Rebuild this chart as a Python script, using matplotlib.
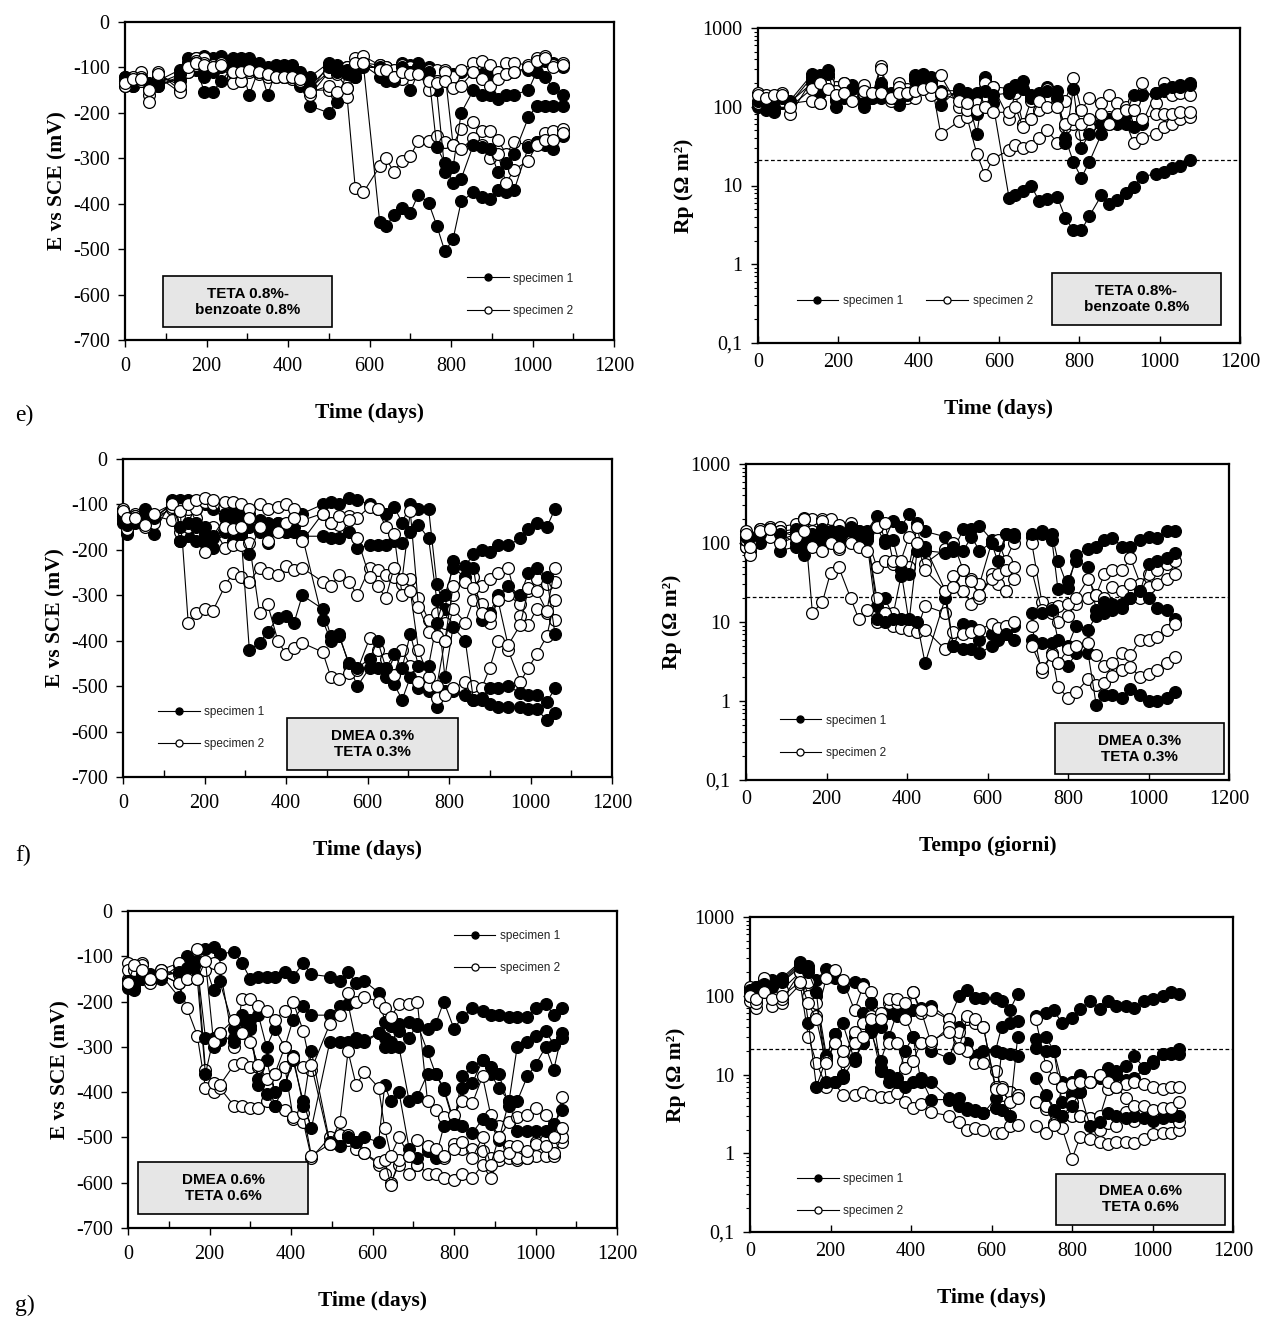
import numpy as np
import matplotlib
matplotlib.use('Agg')
from matplotlib import pyplot as plt
from matplotlib.patches import Rectangle
from matplotlib.ticker import FixedLocator, FixedFormatter, MultipleLocator

nan = np.nan
SERIF = 'Liberation Serif'
SANS = 'Liberation Sans'
plt.rcParams['font.family'] = [SERIF, 'DejaVu Serif']
plt.rcParams['axes.unicode_minus'] = False

# ---------------- e) TETA 0.8% - benzoate 0.8% ----------------
t_e = [0, 20, 40, 60, 80, 135, 155, 175, 195, 215, 235, 265, 285, 305, 330, 350, 370, 390, 410, 430,
       455, 500, 520, 545, 565, 585, 625, 640, 660, 680, 700, 720, 745, 765, 785, 805, 825, 855, 875, 895,
       915, 935, 955, 990, 1010, 1030, 1050, 1075]

e_pot_1a = [-120, -140, -120, -140, -130, -105, -80, -80, -75, -80, -75, -80, -80, -80, -90, -100, -95, -95, -95, -110,
            -120, -90, -95, -100, -95, -90, -95, -100, -110, -90, -95, -90, -100, -110, -110, -115, -110, -110, -115, -115,
            -120, -115, -110, -105, -90, -85, -90, -100]
e_pot_1b = [-125, -135, -130, -140, -140, -120, -110, -100, -155, -155, -130, -100, -100, -160, -100, -160, -110, -120, -120, -140,
            -185, -200, -175, -110, -100, -95, -120, -130, -110, -100, -150, -110, -120, -150, -330, -320, -200, -150, -160, -160,
            -170, -160, -160, -150, -110, -120, -145, -160]
e_pot_1c = [-130, -140, -125, -145, -140, -125, -100, -105, -120, -100, -90, -85, -85, -90, -100, -110, -100, -100, -100, -115,
            -150, -95, -100, -105, -110, -95, -440, -450, -425, -410, -420, -380, -398, -448, -505, -478, -395, -375, -385, -390,
            -370, -375, -370, -275, -265, -270, -280, -250]
e_pot_1d = [-120, -130, -125, -135, -135, -115, -90, -90, -100, -110, -100, -95, -90, -95, -100, -110, -105, -100, -100, -120,
            -140, -100, -110, -115, -120, -100, -100, -115, -130, -100, -110, -100, -110, -275, -310, -355, -345, -270, -275, -280,
            -330, -310, -290, -210, -185, -185, -185, -185]
e_pot_2a = [-140, -130, -110, -150, -125, -130, -90, -80, -80, -95, -90, -120, -130, -110, -115, -120, -120, -120, -125, -130,
            -150, -150, -160, -165, -365, -375, -318, -300, -330, -305, -295, -262, -262, -250, -265, -270, -235, -220, -240, -240,
            -260, -290, -265, -270, -265, -245, -240, -235]
e_pot_2b = [-130, -120, -120, -160, -110, -150, -90, -85, -90, -95, -95, -100, -100, -100, -110, -110, -115, -110, -115, -125,
            -145, -110, -110, -100, -80, -75, -95, -100, -105, -95, -100, -100, -105, -105, -105, -120, -105, -90, -85, -95,
            -110, -90, -90, -95, -80, -75, -95, -90]
e_pot_2c = [-140, -130, -130, -175, -120, -155, -110, -95, -100, -105, -90, -135, -130, -105, -110, -115, -110, -110, -115, -130,
            -160, -110, -115, -145, -120, -90, -105, -110, -120, -125, -110, -110, -150, -130, -110, -270, -280, -255, -270, -300,
            -290, -355, -325, -305, -270, -260, -260, -245]
e_pot_2d = [-135, -125, -125, -150, -115, -140, -100, -90, -95, -100, -95, -110, -110, -105, -110, -115, -120, -120, -120, -125,
            -155, -140, -155, -145, -90, -90, -105, -105, -120, -110, -115, -115, -130, -135, -130, -145, -140, -110, -125, -140,
            -125, -115, -110, -100, -85, -80, -100, -95]

e_rp_1a = [100, 90, 85, 110, 120, 260, 250, 290, 100, 130, 190, 100, 150, 200, 140, 105, 150, 250, 260, 240,
           105, 170, 150, 150, 240, 110, 7, 7.5, 8.5, 10, 6.3, 6.8, 7.2, 3.9, 2.7, 2.7, 4.1, 7.5, 5.9, 6.5,
           8, 9.5, 13, 14, 15, 16.5, 17.5, 21]
e_rp_1b = [110, 100, 95, 120, 115, 200, 150, 180, 130, 170, 150, 130, 140, 130, 150, 170, 150, 230, 250, 230,
           160, 160, 140, 45, 220, 180, 170, 190, 210, 140, 150, 180, 160, 40, 20, 12.5, 20, 45, 60, 60,
           60, 55, 60, 150, 160, 170, 190, 200]
e_rp_1c = [120, 110, 100, 130, 110, 240, 200, 260, 120, 150, 170, 110, 130, 180, 130, 120, 140, 220, 230, 200,
           140, 150, 130, 80, 160, 140, 150, 180, 170, 130, 140, 160, 130, 35, 170, 30, 45, 60, 70, 70,
           80, 140, 140, 150, 170, 180, 180, 190]
e_rp_2a = [150, 140, 130, 150, 80, 220, 110, 240, 180, 200, 130, 190, 140, 330, 130, 200, 170, 230, 220, 230,
           45, 65, 75, 25, 13.5, 22, 28, 33, 30, 32, 40, 50, 35, 55, 60, 45, 55, 75, 75, 70,
           65, 35, 40, 45, 55, 60, 70, 75]
e_rp_2b = [110, 110, 110, 120, 110, 120, 110, 200, 160, 200, 140, 140, 130, 300, 120, 180, 130, 130, 200, 140,
           250, 100, 90, 110, 200, 180, 70, 150, 60, 120, 90, 170, 110, 120, 230, 90, 130, 110, 140, 110,
           100, 120, 200, 110, 200, 140, 150, 140]
e_rp_2c = [140, 130, 140, 140, 100, 170, 200, 170, 140, 150, 120, 160, 150, 150, 130, 150, 150, 160, 170, 180,
           150, 120, 110, 90, 100, 85, 85, 100, 55, 70, 120, 100, 100, 60, 70, 60, 70, 80, 60, 80,
           90, 90, 70, 80, 80, 80, 85, 85]

# ---------------- f) DMEA 0.3% - TETA 0.3% ----------------
t_f = [0, 10, 30, 55, 75, 120, 140, 160, 180, 200, 220, 250, 270, 290, 310, 335, 355, 380, 400, 420,
       440, 490, 510, 530, 555, 575, 605, 625, 645, 665, 685, 705, 725, 750, 770, 790, 810, 840, 860, 880,
       900, 920, 945, 975, 995, 1015, 1040, 1060]

f_pot_1a = [-130, -165, -140, -110, -165, -90, -90, -90, -110, -100, -110, -120, -100, -115, -120, -135, -140, -150, -150, -130,
            -120, -100, -95, -100, -85, -90, -100, -110, -120, -105, -140, -100, -110, -110, -275, -330, -225, -235, -210, -200,
            -205, -190, -190, -175, -155, -140, -150, -110]
f_pot_1b = [-140, -160, -135, -120, -130, -100, -180, -170, -180, -185, -195, -160, -180, -170, -420, -405, -380, -350, -345, -360,
            -300, -330, -390, -385, -455, -500, -460, -460, -480, -495, -530, -480, -505, -510, -545, -510, -510, -520, -530, -530,
            -540, -545, -545, -545, -550, -550, -575, -560]
f_pot_1c = [-135, -150, -125, -115, -135, -95, -180, -100, -140, -165, -175, -150, -130, -165, -210, -150, -185, -140, -160, -150,
            -170, -170, -175, -175, -160, -195, -190, -190, -190, -180, -185, -160, -145, -175, -310, -480, -370, -400, -530, -525,
            -505, -505, -500, -515, -520, -520, -535, -505]
f_pot_1d = [-125, -145, -130, -120, -130, -100, -150, -140, -150, -150, -170, -130, -120, -130, -150, -160, -160, -140, -160, -160,
            -170, -355, -400, -390, -450, -460, -440, -400, -460, -430, -460, -385, -455, -455, -360, -300, -240, -260, -240, -355,
            -340, -300, -280, -300, -250, -240, -260, -385]
f_pot_2a = [-110, -150, -130, -150, -130, -110, -110, -360, -340, -330, -335, -280, -250, -260, -270, -240, -250, -255, -235, -245,
            -240, -270, -280, -255, -270, -300, -240, -245, -255, -260, -275, -265, -305, -355, -340, -360, -300, -260, -260, -280,
            -265, -250, -240, -345, -365, -330, -340, -355]
f_pot_2b = [-120, -150, -120, -140, -125, -135, -160, -150, -130, -205, -150, -195, -190, -190, -185, -340, -320, -400, -430, -415,
            -405, -425, -480, -485, -470, -465, -395, -420, -440, -475, -420, -455, -490, -500, -525, -520, -505, -490, -500, -505,
            -460, -400, -420, -490, -460, -430, -390, -310]
f_pot_2c = [-125, -155, -125, -130, -140, -105, -110, -110, -110, -95, -100, -95, -95, -100, -110, -100, -110, -105, -100, -110,
            -135, -120, -140, -145, -125, -130, -105, -110, -150, -165, -300, -290, -420, -480, -500, -400, -330, -360, -310, -320,
            -360, -310, -300, -320, -290, -265, -275, -270]
f_pot_2d = [-115, -130, -130, -145, -120, -100, -115, -100, -90, -85, -90, -150, -155, -150, -130, -150, -180, -160, -140, -130,
            -180, -120, -140, -125, -135, -175, -260, -280, -305, -240, -265, -115, -325, -380, -390, -400, -280, -270, -285, -340,
            -345, -310, -410, -365, -285, -290, -335, -240]

t_f_rp = [0, 10, 35, 60, 85, 125, 145, 165, 190, 210, 230, 260, 280, 300, 325, 345, 365, 385, 405, 425,
          445, 495, 515, 540, 560, 580, 610, 625, 645, 665, 690, 710, 735, 760, 775, 800, 820, 850, 870, 890,
          910, 935, 955, 980, 1000, 1020, 1045, 1065]

f_rp_1a = [100, 110, 100, 150, 80, 90, 70, 110, 120, 120, 110, 130, 140, 140, 220, 110, 190, 160, 230, 180,
           140, 120, 80, 150, 150, 165, 110, 95, 130, 130, nan, 120, 140, 130, 60, 27, 70, 85, 90, 110,
           115, 90, 90, 110, 120, 115, 140, 140]
f_rp_1b = [90, 100, 110, 140, 130, 100, 90, 100, 90, 130, 130, 160, 140, 130, 16, 20, 12, 38, 40, 100,
           80, 75, 90, 80, 120, 80, 100, 60, 130, 120, nan, 130, 130, 110, 26, 33, 60, 50, 14, 13,
           14, 15, 20, 25, 55, 60, 65, 75]
f_rp_1c = [110, 120, 110, 150, 140, 150, 130, 120, 150, 140, 140, 150, 120, 130, 160, 100, 110, 45, 10, 80,
           90, 25, 5, 9.5, 9, 6, 7, 7, 7, 9, nan, 13, 13, 14, 6, 5, 9, 8, 12, 18,
           17, 17, 20, 25, 20, 15, 14, 11]
f_rp_1d = [120, 120, 130, 150, 130, 140, 120, 130, 110, 130, 120, 140, 130, 110, 11, 10, 11, 11, 11, 10,
           3, 20, 5, 4.5, 4.5, 4, 5, 6, 7, 6, nan, 6, 5.5, 5.5, 3, 2.8, 4, 4, 0.9, 1.2,
           1.2, 1.1, 1.4, 1.2, 1.0, 1.0, 1.1, 1.3]
f_rp_2a = [140, 80, 150, 160, 160, 175, 210, 200, 200, 200, 170, 180, 130, 120, 50, 60, 55, 55, 50, 160,
           55, 85, 100, 45, 35, 30, 100, 110, 60, 100, nan, 100, 18, 13, 10, 12, 17, 20, 22, 40,
           45, 45, 65, 30, 40, 45, 55, 60]
f_rp_2b = [90, 70, 140, 130, 110, 130, 200, 140, 190, 130, 85, 105, 100, 130, 20, 12, 13, 9, 9, 8,
           16, 13, 38, 25, 17, 20, 40, 30, 25, 35, nan, 45, 14, 15, 16, 17, 20, 35, 22, 20,
           28, 25, 30, 20, 28, 30, 35, 40]
f_rp_2c = [110, 100, 150, 120, 140, 120, 200, 13, 18, 42, 50, 20, 11, 14, 10, 13, 9, 8.5, 8, 7.5,
           8, 4.5, 7.5, 7, 7.5, 8, 9.5, 8.5, 9, 10, nan, 9, 2.3, 4, 1.5, 1.1, 1.3, 1.9, 1.6, 1.7,
           2.1, 2.5, 2.7, 2, 2.2, 2.5, 3, 3.6]
f_rp_2d = [130, 90, 140, 150, 100, 120, 140, 90, 80, 100, 90, 100, 90, 80, 160, 180, 60, 60, 120, 100,
           45, 25, 28, 45, 33, 22, 35, 40, 45, 50, nan, 5, 2.6, 3.8, 3, 4.5, 5, 5.5, 3.8, 2.8,
           3, 4, 3.8, 6, 6, 6.5, 8, 9.5]

# ---------------- g) DMEA 0.6% - TETA 0.6% ----------------
t_g = [0, 15, 35, 55, 80, 125, 145, 170, 190, 210, 225, 260, 280, 300, 320, 340, 360, 385, 405, 430,
       450, 495, 520, 540, 560, 580, 615, 630, 645, 665, 690, 710, 735, 755, 775, 800, 820, 845, 870, 890,
       910, 935, 955, 980, 1000, 1025, 1045, 1065]

g_pot_1a = [-160, -170, -150, -140, -150, -120, -100, -110, -85, -80, -95, -90, -115, -150, -145, -145, -145, -135, -145, -115,
            -140, -145, -155, -135, -160, -155, -180, -245, -255, -265, -245, -255, -260, -250, -200, -260, -235, -215, -220, -230,
            -230, -235, -235, -235, -215, -205, -230, -215]
g_pot_1b = [-170, -175, -140, -145, -130, -140, -150, -130, -120, -175, -155, -260, -230, -240, -230, -300, -260, -300, -240, -210,
            -230, -230, -210, -205, -290, -290, -270, -280, -290, -300, -420, -410, -360, -360, -390, -465, -390, -380, -330, -345,
            -360, -430, -420, -365, -340, -300, -350, -270]
g_pot_1c = [-165, -160, -145, -150, -140, -190, -110, -120, -280, -300, -285, -280, -270, -255, -385, -330, -400, -385, -330, -420,
            -480, -290, -290, -290, -280, -285, -270, -300, -300, -250, -280, -250, -310, -360, -395, -470, -365, -345, -330, -360,
            -390, -420, -300, -290, -275, -265, -295, -280]
g_pot_1d = [-155, -165, -140, -145, -145, -135, -125, -150, -360, -280, -270, -290, -240, -260, -370, -405, -430, -385, -320, -430,
            -310, -510, -520, -500, -510, -500, -510, -385, -420, -400, -525, -545, -530, -545, -475, -470, -475, -490, -460, -470,
            -505, -420, -485, -485, -485, -485, -470, -440]
g_pot_2a = [-115, -140, -115, -150, -140, -160, -215, -275, -390, -400, -390, -430, -430, -435, -435, -420, -430, -440, -460, -465,
            -545, -500, -515, -505, -525, -535, -560, -580, -600, -560, -580, -560, -580, -580, -590, -595, -580, -590, -560, -590,
            -550, -545, -550, -545, -540, -540, -540, -510]
g_pot_2b = [-150, -130, -140, -160, -135, -140, -115, -120, -350, -380, -385, -340, -335, -345, -345, -385, -360, -345, -455, -445,
            -540, -515, -495, -495, -510, -535, -555, -550, -605, -550, -540, -560, -525, -540, -545, -515, -525, -525, -530, -545,
            -540, -520, -545, -545, -510, -505, -535, -500]
g_pot_2c = [-130, -130, -120, -150, -130, -115, -145, -85, -130, -115, -125, -300, -195, -195, -210, -220, -240, -220, -200, -265,
            -350, -250, -230, -180, -200, -190, -200, -215, -235, -205, -205, -200, -420, -440, -455, -450, -420, -425, -365, -450,
            -475, -465, -455, -450, -435, -450, -490, -410]
g_pot_2d = [-160, -120, -130, -150, -140, -160, -150, -150, -110, -290, -270, -240, -270, -290, -340, -370, -360, -300, -325, -345,
            -340, -515, -465, -310, -385, -355, -390, -480, -540, -500, -540, -505, -520, -525, -540, -525, -510, -545, -500, -560,
            -500, -535, -520, -530, -515, -520, -500, -480]

t_g_rp = [0, 15, 35, 55, 80, 125, 145, 165, 190, 210, 230, 260, 280, 300, 325, 345, 365, 385, 405, 425,
          450, 495, 520, 540, 560, 580, 610, 625, 645, 665, 690, 710, 735, 755, 775, 800, 820, 845, 870, 890,
          910, 935, 955, 980, 1000, 1025, 1045, 1065]

g_rp_1a = [120, 130, 140, 160, 170, 270, 240, 160, 220, 170, 130, 150, 140, 80, 40, 60, 55, 60, 65, 70,
           75, 50, 100, 120, 95, 95, 95, 85, 65, 105, nan, 55, 60, 65, 45, 52, 68, 85, 68, 85,
           75, 75, 70, 85, 90, 100, 110, 105]
g_rp_1b = [110, 120, 130, 130, 160, 260, 220, 100, 17, 33, 45, 15, 25, 35, 15, 30, 60, 55, 30, 25,
           20, 16, 40, 25, 17, 20, 20, 40, 45, 48, nan, 28, 30, 20, 8, 8, 10, 8, 9, 12,
           11, 13, 17, 12, 14, 18, 19, 21]
g_rp_1c = [100, 110, 120, 120, 150, 250, 45, 7, 16, 33, 10, 30, 60, 80, 12, 10, 8, 20, 30, 8,
           8, 5, 5, 3.8, 3.4, 3.2, 3.8, 19, 18, 17, nan, 22, 20, 20, 4.5, 5.5, 6, 8, 10, 11,
           10, 8.5, 9, 12, 15, 18, 18, 18]
g_rp_1d = [120, 130, 140, 130, 150, 230, 200, 110, 8, 8, 9, 16, 25, 40, 11, 8, 9, 7, 8, 9,
           4.8, 4.8, 4.0, 3.5, 3.5, 3.2, 5, 3.5, 3, 30, nan, 9, 5.5, 3.5, 3, 4, 6, 2.2, 2.5, 3.2,
           3.0, 2.8, 3.0, 2.8, 2.6, 2.8, 3, 3]
g_rp_2a = [130, 70, 160, 75, 80, 140, 30, 14, 7, 8, 5.5, 5.5, 6, 5.5, 5.2, 5.2, 5.8, 4.5, 3.8, 4.2,
           3.3, 3, 2.5, 2, 2.1, 2, 1.8, 1.8, 2.2, 2.3, nan, 2.2, 1.8, 2.4, 2.1, 0.85, 1.6, 1.5, 1.4, 1.3,
           1.4, 1.4, 1.35, 1.5, 1.75, 1.8, 1.8, 2]
g_rp_2b = [85, 90, 120, 110, 90, 200, 150, 55, 170, 210, 160, 65, 130, 110, 55, 80, 80, 50, 110, 60,
           65, 50, 28, 20, 14, 14, 11, 7, 6, 5.5, nan, 4.5, 3.6, 3.4, 3.0, 3, 3, 2.8, 2, 2.4,
           2.2, 3.3, 2.6, 3.5, 3.3, 3.4, 3.5, 2.5]
g_rp_2c = [110, 80, 170, 110, 120, 200, 100, 80, 15, 25, 15, 35, 45, 55, 60, 90, 90, 80, 110, 65,
           25, 40, 35, 50, 45, 40, 7, 5.5, 6, 5.5, nan, 4.5, 4, 2.3, 7, 4.5, 3, 2.8, 3, 6.5,
           7, 7.5, 8, 7.5, 7, 6.5, 7, 7]
g_rp_2d = [100, 90, 110, 90, 100, 150, 80, 50, 14, 25, 20, 25, 30, 50, 50, 25, 25, 12, 15, 25,
           27, 35, 22, 55, 50, 40, 6.5, 6.5, 4.5, 5, nan, 50, 13, 9, 7, 7.5, 8, 8, 10, 8,
           7, 5, 4, 4, 3.5, 3.8, 3.8, 4.5]

rp_limit = 21  # dashed threshold line
legend_labels = ['specimen 1', 'specimen 2']

W, H = 1261, 1320
fig = plt.figure(figsize=(W / 100, H / 100), dpi=100)

LABEL_FS = 15.5
TICK_FS = 14.5


def make_ax(x0, x1, y0, y1):
    return fig.add_axes([x0 / W, 1 - y1 / H, (x1 - x0) / W, (y1 - y0) / H])


def draw_series(ax, t, spec1, spec2):
    handles = []
    for a, b in zip(spec1, spec2):
        for vals, face in ((a, 'black'), (b, 'white')):
            line, = ax.plot(t, vals, '-o', color='black', lw=0.8, ms=8.5, mfc=face,
                            mec='black', mew=0.9, clip_on=False, zorder=3)
            if len(handles) < 2:
                handles.append(line)
    return handles


def style_common(ax):
    ax.set_xlim(0, 1200)
    ax.xaxis.set_major_locator(MultipleLocator(200))
    for sp in ax.spines.values():
        sp.set_linewidth(1.6)
    ax.tick_params(labelsize=TICK_FS, width=1)
    ax.tick_params(axis='y', which='major', direction='out', length=5, pad=6)
    ax.tick_params(axis='x', which='major', pad=7)


def style_pot(ax):
    style_common(ax)
    ax.set_ylim(-700, 0)
    ax.yaxis.set_major_locator(MultipleLocator(100))
    ax.xaxis.set_minor_locator(MultipleLocator(100))
    ax.tick_params(axis='x', which='major', direction='out', length=5)
    ax.tick_params(axis='x', which='minor', direction='in', length=5, width=1)
    ax.set_ylabel('E vs SCE (mV)', fontsize=LABEL_FS, fontweight='bold', labelpad=4)


def style_rp(ax):
    style_common(ax)
    ax.set_yscale('log')
    ax.set_ylim(0.1, 1000)
    ax.yaxis.set_major_locator(FixedLocator([0.1, 1, 10, 100, 1000]))
    ax.yaxis.set_major_formatter(FixedFormatter(['0,1', '1', '10', '100', '1000']))
    minors = [m * 10.0 ** d for d in range(-1, 3) for m in range(2, 10)]
    ax.yaxis.set_minor_locator(FixedLocator(minors))
    ax.yaxis.set_minor_formatter(FixedFormatter([''] * len(minors)))
    ax.tick_params(axis='y', which='minor', direction='out', length=3, width=0.8)
    ax.tick_params(axis='x', which='major', direction='in', length=5)
    ax.axhline(rp_limit, color='black', lw=0.9, ls=(0, (3, 2)), zorder=2)
    ax.set_ylabel('Rp (\u03a9 m\u00b2)', fontsize=LABEL_FS, fontweight='bold', labelpad=6)


def add_box(ax, x0, x1, y0, y1, text):
    ax.add_patch(Rectangle((x0, y0), x1 - x0, y1 - y0, transform=ax.transAxes,
                           fc='#e6e6e6', ec='black', lw=1.2, zorder=5, clip_on=False))
    ax.text((x0 + x1) / 2, (y0 + y1) / 2, text, transform=ax.transAxes, ha='center',
            va='center', family=SANS, fontsize=11, fontweight='bold', linespacing=1.15, zorder=6)


def add_legend(ax, handles, x, y, ncol=1):
    ax.legend(handles, legend_labels, loc='upper left', bbox_to_anchor=(x, y), ncol=ncol,
              frameon=False, prop={'family': SANS, 'size': 8.5}, handlelength=3.5,
              handletextpad=0.4, labelspacing=1.7, markerscale=0.6, borderpad=0,
              borderaxespad=0, columnspacing=2.0, labelcolor='#222222')


# ---- row e
ax = make_ax(125, 614, 22, 340)
h = draw_series(ax, t_e, [e_pot_1a, e_pot_1b, e_pot_1c, e_pot_1d], [e_pot_2a, e_pot_2b, e_pot_2c, e_pot_2d])
style_pot(ax)
ax.set_xlabel('Time (days)', fontsize=LABEL_FS, fontweight='bold', labelpad=20)
add_box(ax, 0.078, 0.424, 0.04, 0.201, 'TETA 0.8%-\nbenzoate 0.8%')
add_legend(ax, h, 0.70, 0.212)

ax = make_ax(758, 1240, 28, 343)
h = draw_series(ax, t_e, [e_rp_1a, e_rp_1b, e_rp_1c], [e_rp_2a, e_rp_2b, e_rp_2c])
style_rp(ax)
ax.set_xlabel('Time (days)', fontsize=LABEL_FS, fontweight='bold', labelpad=20)
add_box(ax, 0.61, 0.96, 0.058, 0.222, 'TETA 0.8%-\nbenzoate 0.8%')
add_legend(ax, h, 0.08, 0.152, ncol=2)

# ---- row f
ax = make_ax(123, 612, 459, 777)
h = draw_series(ax, t_f, [f_pot_1a, f_pot_1b, f_pot_1c, f_pot_1d], [f_pot_2a, f_pot_2b, f_pot_2c, f_pot_2d])
style_pot(ax)
ax.set_xlabel('Time (days)', fontsize=LABEL_FS, fontweight='bold', labelpad=20)
add_box(ax, 0.336, 0.686, 0.023, 0.186, 'DMEA 0.3%\nTETA 0.3%')
add_legend(ax, h, 0.072, 0.222)

ax = make_ax(746, 1229, 464, 780)
h = draw_series(ax, t_f_rp, [f_rp_1a, f_rp_1b, f_rp_1c, f_rp_1d], [f_rp_2a, f_rp_2b, f_rp_2c, f_rp_2d])
style_rp(ax)
ax.set_xlabel('Tempo (giorni)', fontsize=LABEL_FS, fontweight='bold', labelpad=20)
add_box(ax, 0.64, 0.989, 0.018, 0.180, 'DMEA 0.3%\nTETA 0.3%')
add_legend(ax, h, 0.07, 0.207)

# ---- row g
ax = make_ax(128, 617, 911, 1228)
h = draw_series(ax, t_g, [g_pot_1a, g_pot_1b, g_pot_1c, g_pot_1d], [g_pot_2a, g_pot_2b, g_pot_2c, g_pot_2d])
style_pot(ax)
ax.set_xlabel('Time (days)', fontsize=LABEL_FS, fontweight='bold', labelpad=20)
add_box(ax, 0.021, 0.369, 0.045, 0.208, 'DMEA 0.6%\nTETA 0.6%')
add_legend(ax, h, 0.667, 0.939)

ax = make_ax(750, 1233, 917, 1232)
h = draw_series(ax, t_g_rp, [g_rp_1a, g_rp_1b, g_rp_1c, g_rp_1d], [g_rp_2a, g_rp_2b, g_rp_2c, g_rp_2d])
style_rp(ax)
ax.set_xlabel('Time (days)', fontsize=LABEL_FS, fontweight='bold', labelpad=20)
add_box(ax, 0.634, 0.984, 0.023, 0.185, 'DMEA 0.6%\nTETA 0.6%')
add_legend(ax, h, 0.098, 0.186)

for lab, yy in (('e)', 415), ('f)', 855), ('g)', 1305)):
    fig.text(15 / W, 1 - yy / H, lab, fontsize=17, va='center', ha='left')

fig.savefig('out.png', dpi=100)
